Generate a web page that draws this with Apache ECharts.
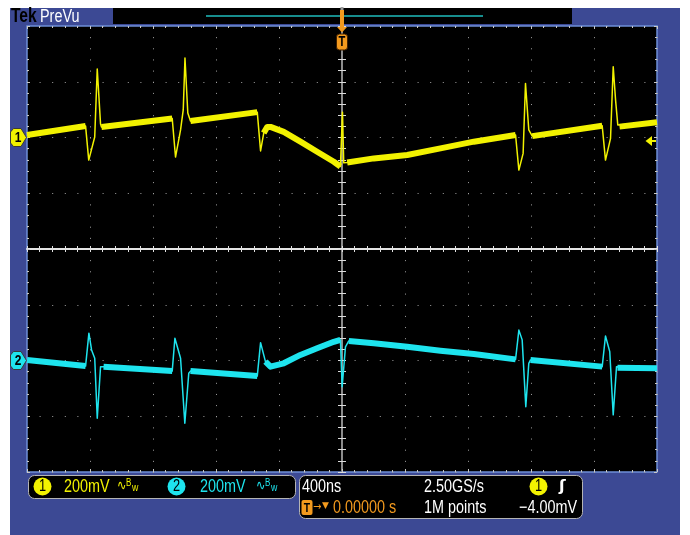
<!DOCTYPE html>
<html>
<head>
<meta charset="utf-8">
<script src="https://cdn.jsdelivr.net/npm/echarts@6/dist/echarts.min.js"></script>
<style>
  html, body { margin: 0; padding: 0; background: #fff; }
  #chart { width: 690px; height: 535px; }
</style>
</head>
<body>
<div id="chart"></div>
<script>
// Acquisition settings
const timePerDivNs = 400;       // horizontal scale
const ch1VoltsPerDiv = 200;     // mV/div
const ch2VoltsPerDiv = 200;     // mV/div
const ch1OffsetDiv = 2;         // ground marker above centre
const ch2OffsetDiv = -2;        // ground marker below centre

// Channel 1 (yellow) trace: time in ns, amplitude in mV
const ch1Time = [-2000, -1628, -1608, -1570, -1554, -1533, -1527, -1078, -1057, -1025, -1008, -997, -979, -962,
  -538, -517, -497, -475, -454, -370, -264, -158, -52, -10, 3, 11, 33, 202, 414, 625, 837,
  1102, 1123, 1150, 1165, 1186, 1208, 1652, 1673, 1705, 1722, 1737, 1751, 1762, 2000];
const ch1Mv = [9, 41, -81, 2, 246, 48, 38, 68, -70, 27, 99, 285, 88, 59,
  91, -48, 16, 38, 38, 20, -15, -51, -87, -104, 91, -91, -90, -75, -63, -39, -15,
  9, -117, -57, 194, 27, 5, 42, -81, -3, 254, 134, 45, 39, 55];
// Stretches where the channel 1 trace is a broad noisy band
const ch1BandSpans = [[-2000, -1628], [-1527, -1078], [-962, -538], [-497, -10], [33, 1102], [1208, 1652], [1762, 2000]];

// Channel 2 (cyan) trace
const ch2Time = [-2000, -1628, -1607, -1590, -1570, -1554, -1533, -1514, -1078, -1061, -1025, -998, -973, -962,
  -538, -517, -486, -454, -370, -264, -158, -52, -10, 1, 22, 43, 202, 414, 625, 837,
  1102, 1123, 1144, 1167, 1186, 1197, 1652, 1673, 1700, 1722, 1743, 1749, 2000];
const ch2Mv = [2, -20, 98, 38, 8, -207, -22, -22, -38, 80, 8, -225, -46, -38,
  -56, 64, -4, -22, -10, 20, 44, 67, 74, -94, 49, 70, 62, 49, 35, 23,
  4, 109, 74, -166, -10, 2, -22, 88, 32, -195, -22, -26, -28];
const ch2BandSpans = [[-2000, -1628], [-1514, -1078], [-962, -538], [-486, -10], [43, 1102], [1197, 1652], [1749, 2000]];

// Readout texts
const ch1Readout = '200mV';
const ch2Readout = '200mV';
const horizReadout = '400ns';
const sampleRate = '2.50GS/s';
const recordLength = '1M points';
const triggerPos = '0.00000 s';
const triggerLevel = '\u22124.00mV';

const CH1 = '#f2f200';
const CH2 = '#1ee4ee';
const ORANGE = '#f39a1e';
const BLUE = '#3c4994';
const FAMILY = "'Liberation Sans', Arial, sans-serif";
const NARROW = 0.8;   // horizontal squeeze for the instrument's narrow lettering

const HALF_DIVS_X = 5, HALF_DIVS_Y = 4;

const pairs = (t, v) => t.map((x, i) => [x, v[i]]);
const band = (t, v, spans) => t.map((x, i) =>
  [x, spans.some(([a, b]) => x >= a && x <= b) ? v[i] : null]);

const chart = echarts.init(document.getElementById('chart'), null, { renderer: 'canvas' });

const gridDot = '#a0a0a0';
const tickCol = '#c8c8c8';

function borderAxis(extra) {
  return Object.assign({
    type: 'value',
    axisLabel: { show: false },
    axisLine: { show: false, onZero: false },
    axisTick: { show: true, inside: true, length: 3, lineStyle: { color: tickCol, width: 1 } },
    minorTick: { show: true, splitNumber: 5, length: 2, lineStyle: { color: tickCol, width: 1 } },
    splitLine: { show: false },
    minorSplitLine: { show: false }
  }, extra);
}

const xMin = -HALF_DIVS_X * timePerDivNs, xMax = HALF_DIVS_X * timePerDivNs;
const ch1Min = (-HALF_DIVS_Y - ch1OffsetDiv) * ch1VoltsPerDiv, ch1Max = (HALF_DIVS_Y - ch1OffsetDiv) * ch1VoltsPerDiv;
const ch2Min = (-HALF_DIVS_Y - ch2OffsetDiv) * ch2VoltsPerDiv, ch2Max = (HALF_DIVS_Y - ch2OffsetDiv) * ch2VoltsPerDiv;

function centreX(inside) {
  return {
    type: 'value', min: xMin, max: xMax, interval: timePerDivNs,
    axisLabel: { show: false },
    axisLine: { show: true, onZero: true, onZeroAxisIndex: 2, lineStyle: { color: '#f4f4f4', width: 1.5 } },
    axisTick: { show: true, inside: inside, length: 3, lineStyle: { color: '#e0e0e0' } },
    minorTick: { show: true, splitNumber: 5, length: 3, lineStyle: { color: '#e0e0e0' } },
    splitLine: { show: false }
  };
}
function centreY(inside) {
  return {
    type: 'value', min: -HALF_DIVS_Y, max: HALF_DIVS_Y, interval: 1,
    axisLabel: { show: false },
    axisLine: { show: true, onZero: true, onZeroAxisIndex: 0, lineStyle: { color: '#8c8c8c', width: 2 } },
    axisTick: { show: true, inside: inside, length: 4, lineStyle: { color: '#dcdcdc' } },
    minorTick: { show: true, splitNumber: 5, length: 4, lineStyle: { color: '#dcdcdc' } },
    splitLine: { show: false }
  };
}

// text helper: narrow lettering by squeezing a regular sans face
function txt(x, y, text, color, size, opt) {
  opt = opt || {};
  return {
    type: 'text', x: x, y: y, scaleX: opt.scaleX || NARROW, z: opt.z || 21,
    style: {
      text: text, fill: color,
      font: (opt.weight || 'normal') + ' ' + size + 'px ' + (opt.family || FAMILY),
      align: opt.align || 'left', verticalAlign: 'middle'
    }
  };
}

function chanMarker(cy, color, label) {
  return [
    { type: 'polygon', shape: { points: [[10.5, cy - 5.5], [13.5, cy - 9], [21, cy - 9], [26.5, cy], [21, cy + 9], [13.5, cy + 9], [10.5, cy + 5.5]] },
      style: { fill: color, stroke: '#3a3a3a', lineWidth: 1 }, z: 20 },
    txt(18, cy + 0.5, label, '#000', 15, { weight: 'bold', align: 'center' })
  ];
}
function badge(cx, cy, color, label) {
  return [
    { type: 'circle', shape: { cx: cx, cy: cy, r: 9 }, style: { fill: color }, z: 20 },
    txt(cx, cy + 0.5, label, '#000', 16, { align: 'center' })
  ];
}
function bwIcon(x, y, color) {
  return [
    txt(x, y, '\u223F', color, 14, { family: "'DejaVu Sans', sans-serif", scaleX: 0.8 }),
    txt(x + 9, y - 3, 'B', color, 10, { scaleX: 0.8 }),
    txt(x + 15, y + 2, 'w', color, 11, { scaleX: 0.8 })
  ];
}

const graphics = [
  // page margins
  { type: 'rect', shape: { x: 0, y: 0, width: 690, height: 8 }, style: { fill: '#fff' } },
  { type: 'rect', shape: { x: 0, y: 0, width: 10, height: 535 }, style: { fill: '#fff' } },
  { type: 'rect', shape: { x: 680, y: 0, width: 10, height: 535 }, style: { fill: '#fff' } },
  // header
  txt(11, 16.5, 'Tek', '#000', 20, { weight: 'bold', scaleX: 0.78 }),
  txt(40, 17, 'PreVu', '#fff', 18, { scaleX: 0.8 }),
  { type: 'rect', shape: { x: 113, y: 8, width: 459, height: 16 }, style: { fill: '#000' } },
  { type: 'line', shape: { x1: 206, y1: 16, x2: 483, y2: 16 }, style: { stroke: '#1fbcbc', lineWidth: 1.5 } },
  // trigger position marker
  { type: 'rect', shape: { x: 340.5, y: 7, width: 3, height: 4 }, style: { fill: '#9a9a9a' }, z: 22 },
  { type: 'rect', shape: { x: 340, y: 10, width: 4, height: 17 }, style: { fill: ORANGE }, z: 22 },
  { type: 'polygon', shape: { points: [[337, 27], [347, 27], [342, 32.5]] }, style: { fill: ORANGE }, z: 22 },
  { type: 'rect', shape: { x: 336.5, y: 34, width: 11, height: 16, r: 3 }, style: { fill: ORANGE, stroke: '#402000', lineWidth: 1 }, z: 22 },
  txt(342, 42.5, 'T', '#000', 14, { weight: 'bold', align: 'center', z: 23 }),
  // trigger level arrow
  { type: 'polygon', shape: { points: [[645.5, 141], [652, 136], [652, 146]] }, style: { fill: CH1 }, z: 20 },
  { type: 'line', shape: { x1: 651, y1: 141, x2: 656, y2: 141 }, style: { stroke: CH1, lineWidth: 2 }, z: 20 },
  // readout boxes
  { type: 'rect', shape: { x: 28.5, y: 475.5, width: 267, height: 23, r: 6 }, style: { fill: '#000', stroke: '#b4b4b4', lineWidth: 1 }, z: 19 },
  { type: 'rect', shape: { x: 299.5, y: 475.5, width: 283, height: 43, r: 6 }, style: { fill: '#000', stroke: '#b4b4b4', lineWidth: 1 }, z: 19 },
  txt(64, 487.5, ch1Readout, CH1, 18),
  txt(200, 487.5, ch2Readout, CH2, 18),
  txt(302, 487.5, horizReadout, '#fff', 18),
  txt(424, 487.5, sampleRate, '#fff', 18),
  txt(559, 487, '\u0283', '#fff', 16, { weight: 'bold', family: "'DejaVu Sans', sans-serif", scaleX: 1 }),
  { type: 'rect', shape: { x: 301.5, y: 500, width: 11, height: 15, r: 2 }, style: { fill: ORANGE }, z: 20 },
  txt(307, 508, 'T', '#000', 13, { weight: 'bold', align: 'center' }),
  txt(313, 507.5, '\u2192', ORANGE, 11, { family: "'DejaVu Sans', sans-serif", scaleX: 0.9 }),
  txt(322, 506, '\u25BC', ORANGE, 9, { family: "'DejaVu Sans', sans-serif", scaleX: 1 }),
  txt(333, 508, triggerPos, ORANGE, 18),
  txt(424, 508, recordLength, '#fff', 18),
  txt(519, 508, triggerLevel, '#fff', 18)
].concat(
  chanMarker(137.5, CH1, '1'),
  chanMarker(360.5, CH2, '2'),
  badge(42.5, 486.5, CH1, '1'),
  badge(176.5, 486.5, CH2, '2'),
  badge(538.5, 486.5, CH1, '1'),
  bwIcon(117, 486, CH1),
  bwIcon(256, 486, CH2)
);

chart.setOption({
  animation: false,
  backgroundColor: BLUE,
  grid: {
    left: 27, top: 26, width: 630, height: 446,
    show: true, backgroundColor: '#000', borderColor: '#6d8fd8', borderWidth: 1.5,
    containLabel: false, outerBoundsMode: 'none'
  },
  xAxis: [
    borderAxis({ position: 'bottom', min: xMin, max: xMax, interval: timePerDivNs,
      splitLine: { show: true, lineStyle: { color: gridDot, width: 1, type: [1, 10.15] } } }),
    borderAxis({ position: 'top', min: xMin, max: xMax, interval: timePerDivNs }),
    centreX(true),
    centreX(false)
  ],
  yAxis: [
    borderAxis({ position: 'left', min: ch1Min, max: ch1Max, interval: ch1VoltsPerDiv,
      splitLine: { show: true, lineStyle: { color: gridDot, width: 1, type: [1, 11.6] } } }),
    borderAxis({ position: 'right', min: ch2Min, max: ch2Max, interval: ch2VoltsPerDiv }),
    centreY(true),
    centreY(false)
  ],
  graphic: { elements: graphics },
  series: [
    { name: 'CH1 band', type: 'line', xAxisIndex: 0, yAxisIndex: 0, data: band(ch1Time, ch1Mv, ch1BandSpans),
      symbol: 'none', connectNulls: false, silent: true, z: 5,
      lineStyle: { color: CH1, width: 6, cap: 'butt', join: 'round' } },
    { name: 'CH1', type: 'line', xAxisIndex: 0, yAxisIndex: 0, data: pairs(ch1Time, ch1Mv),
      symbol: 'none', silent: true, z: 6,
      lineStyle: { color: CH1, width: 1.5, join: 'round' } },
    { name: 'CH2 band', type: 'line', xAxisIndex: 0, yAxisIndex: 1, data: band(ch2Time, ch2Mv, ch2BandSpans),
      symbol: 'none', connectNulls: false, silent: true, z: 5,
      lineStyle: { color: CH2, width: 6, cap: 'butt', join: 'round' } },
    { name: 'CH2', type: 'line', xAxisIndex: 0, yAxisIndex: 1, data: pairs(ch2Time, ch2Mv),
      symbol: 'none', silent: true, z: 6,
      lineStyle: { color: CH2, width: 1.5, join: 'round' } }
  ]
});
</script>
</body>
</html>
